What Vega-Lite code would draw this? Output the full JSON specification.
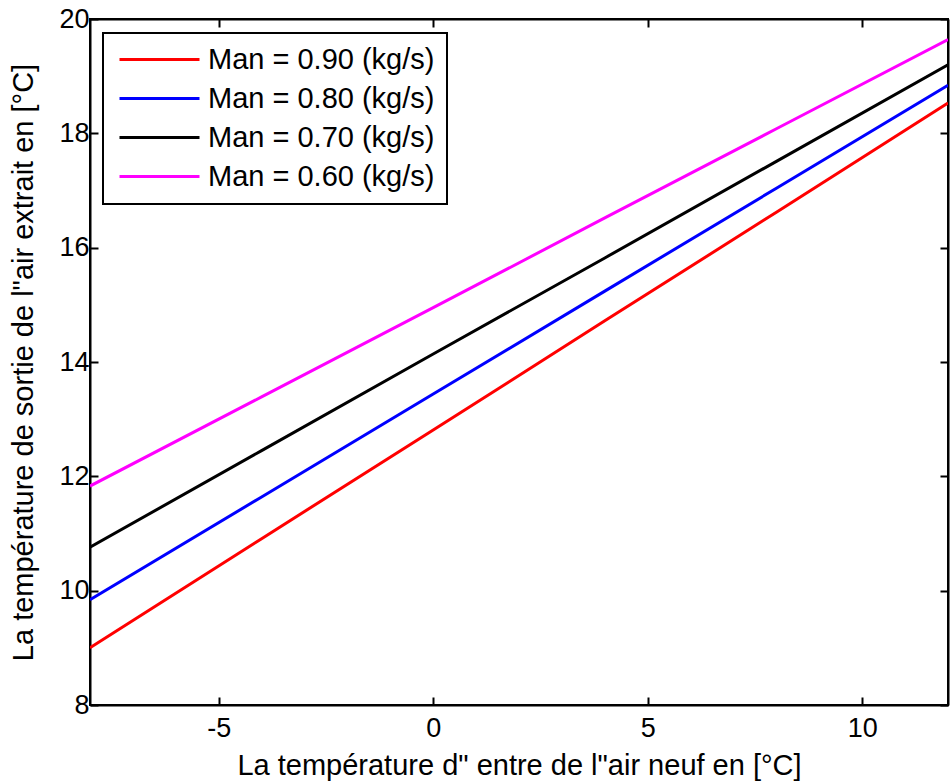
{
  "$schema": "https://vega.github.io/schema/vega-lite/v6.json",
  "autosize": "none",
  "width": 858,
  "height": 686,
  "padding": {"left": 90, "top": 19, "right": 4, "bottom": 79},
  "background": "white",
  "config": {
    "font": "Liberation Sans",
    "view": {"stroke": "black", "strokeWidth": 2},
    "axis": {
      "grid": false,
      "domainColor": "black",
      "domainWidth": 2,
      "tickColor": "black",
      "tickWidth": 2,
      "tickSize": -8,
      "labelColor": "black",
      "titleColor": "black",
      "labelFont": "Liberation Sans",
      "titleFont": "Liberation Sans",
      "labelFontSize": 27,
      "titleFontSize": 29,
      "titleFontWeight": "normal"
    }
  },
  "data": {
    "values": [
      {"s": "Man = 0.90 (kg/s)", "x": -8, "y": 9.0},
      {"s": "Man = 0.90 (kg/s)", "x": -4, "y": 10.91},
      {"s": "Man = 0.90 (kg/s)", "x": 0, "y": 12.81},
      {"s": "Man = 0.90 (kg/s)", "x": 4, "y": 14.72},
      {"s": "Man = 0.90 (kg/s)", "x": 8, "y": 16.62},
      {"s": "Man = 0.90 (kg/s)", "x": 12, "y": 18.53},
      {"s": "Man = 0.80 (kg/s)", "x": -8, "y": 9.84},
      {"s": "Man = 0.80 (kg/s)", "x": -4, "y": 11.64},
      {"s": "Man = 0.80 (kg/s)", "x": 0, "y": 13.44},
      {"s": "Man = 0.80 (kg/s)", "x": 4, "y": 15.24},
      {"s": "Man = 0.80 (kg/s)", "x": 8, "y": 17.04},
      {"s": "Man = 0.80 (kg/s)", "x": 12, "y": 18.84},
      {"s": "Man = 0.70 (kg/s)", "x": -8, "y": 10.76},
      {"s": "Man = 0.70 (kg/s)", "x": -4, "y": 12.45},
      {"s": "Man = 0.70 (kg/s)", "x": 0, "y": 14.14},
      {"s": "Man = 0.70 (kg/s)", "x": 4, "y": 15.82},
      {"s": "Man = 0.70 (kg/s)", "x": 8, "y": 17.51},
      {"s": "Man = 0.70 (kg/s)", "x": 12, "y": 19.2},
      {"s": "Man = 0.60 (kg/s)", "x": -8, "y": 11.83},
      {"s": "Man = 0.60 (kg/s)", "x": -4, "y": 13.39},
      {"s": "Man = 0.60 (kg/s)", "x": 0, "y": 14.95},
      {"s": "Man = 0.60 (kg/s)", "x": 4, "y": 16.52},
      {"s": "Man = 0.60 (kg/s)", "x": 8, "y": 18.08},
      {"s": "Man = 0.60 (kg/s)", "x": 12, "y": 19.64}
    ]
  },
  "layer": [
    {
      "mark": {"type": "line", "strokeWidth": 3, "clip": true},
      "encoding": {
        "x": {
          "field": "x", "type": "quantitative",
          "scale": {"domain": [-8, 12], "nice": false, "zero": false},
          "axis": {"values": [-5, 0, 5, 10], "labelExpr": "toString(datum.value)", "title": "La température d\" entre de l\"air neuf en [°C]", "labelPadding": 18, "titlePadding": 10}
        },
        "y": {
          "field": "y", "type": "quantitative",
          "scale": {"domain": [8, 20], "nice": false, "zero": false},
          "axis": {"values": [8, 10, 12, 14, 16, 18, 20], "title": "La température de sortie de l\"air extrait en [°C]", "labelPadding": 9, "titlePadding": 20}
        },
        "color": {
          "field": "s", "type": "nominal",
          "scale": {
            "domain": ["Man = 0.90 (kg/s)", "Man = 0.80 (kg/s)", "Man = 0.70 (kg/s)", "Man = 0.60 (kg/s)"],
            "range": ["#ff0000", "#0000ff", "#000000", "#ff00ff"]
          },
          "legend": {
            "title": null,
            "orient": "none",
            "legendX": 13,
            "legendY": 14,
            "symbolType": "M-1,0H7",
            "symbolSize": 400,
            "symbolStrokeWidth": 3,
            "labelFontSize": 29,
            "labelColor": "black",
            "labelFont": "Liberation Sans",
            "labelLimit": 400,
            "rowPadding": 9,
            "padding": 12,
            "strokeColor": "black",
            "fillColor": "white",
            "labelOffset": 64,
            "encode": {"legend": {"update": {"strokeWidth": {"value": 2}}}}
          }
        }
      }
    },
    {
      "mark": {"type": "line", "opacity": 0},
      "encoding": {
        "x": {"field": "x", "type": "quantitative", "axis": {"orient": "top", "values": [-5, 0, 5, 10], "labels": false, "title": null}},
        "y": {"field": "y", "type": "quantitative", "axis": {"orient": "right", "values": [8, 10, 12, 14, 16, 18, 20], "labels": false, "title": null}},
        "detail": {"field": "s"}
      }
    }
  ],
  "resolve": {"axis": {"x": "independent", "y": "independent"}}
}
